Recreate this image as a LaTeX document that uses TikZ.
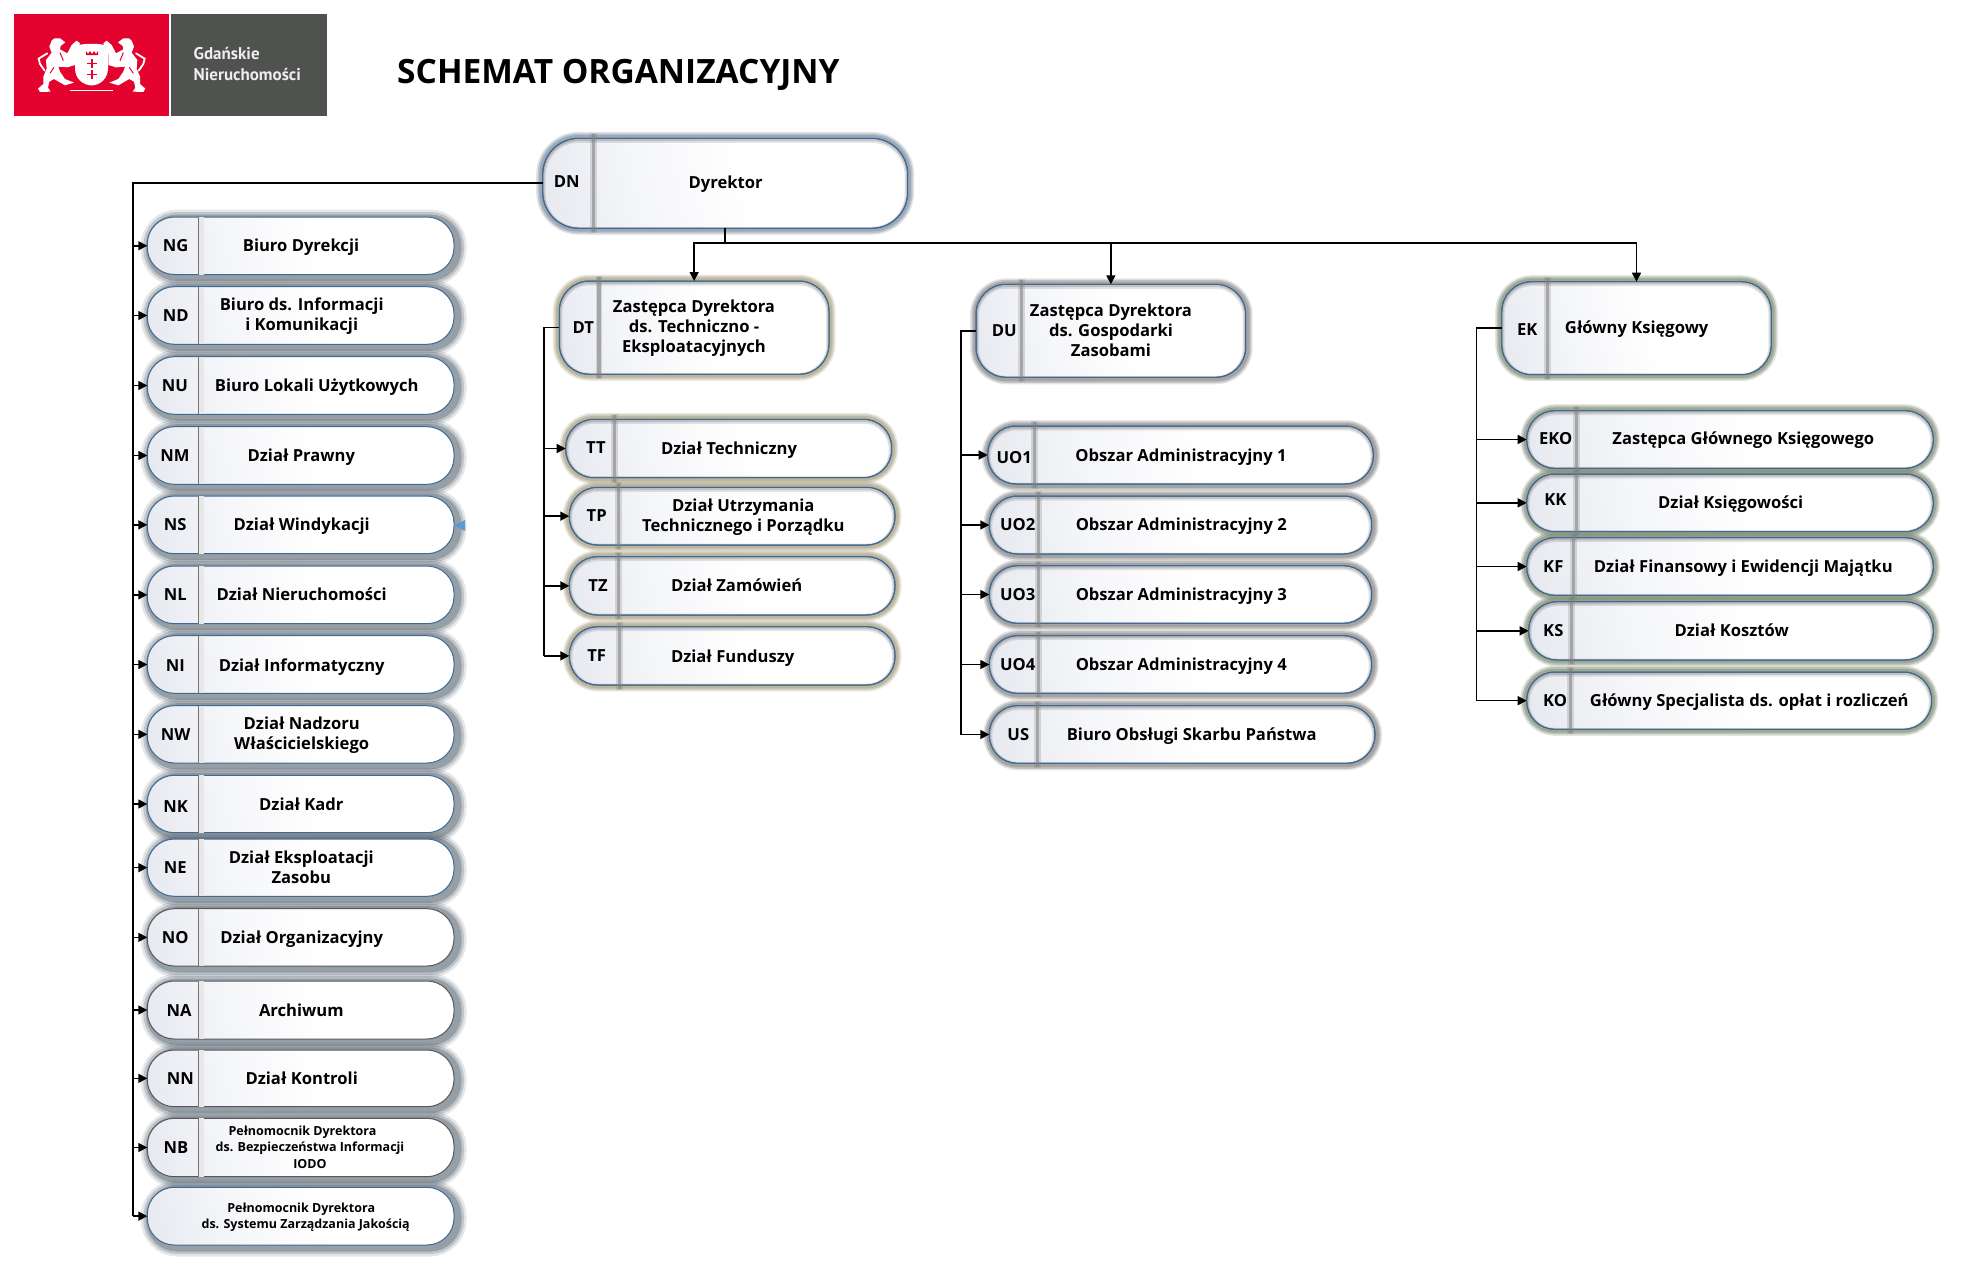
\documentclass[tikz,border=0pt]{standalone}
\usepackage{fontspec}
\setmainfont{Open Sans}
\newfontfamily\logofont{PT Sans}
\usetikzlibrary{arrows.meta}
\pgfdeclarelayer{bg}
\pgfsetlayers{bg,main}
\definecolor{shA}{HTML}{E4E7EE}
\definecolor{shB}{HTML}{F5F6F9}
\pgfdeclarehorizontalshading{boxshade}{100bp}{color(0bp)=(shA); color(18bp)=(shA); color(36bp)=(shB); color(54bp)=(white); color(100bp)=(white)}
\definecolor{blueline}{HTML}{3F6A94}
\definecolor{greyline}{HTML}{55595E}
\definecolor{gL}{HTML}{586472}
\definecolor{gD}{HTML}{7E90A2}
\definecolor{gT}{HTML}{A9A182}
\definecolor{gU}{HTML}{8A8A8A}
\definecolor{gK}{HTML}{838F78}
\definecolor{logored}{HTML}{E4032E}
\definecolor{logogrey}{HTML}{4F524F}
\definecolor{tribl}{HTML}{5B9BD5}
\tikzset{
  orgshape/.style={rectangle,draw,line width=1pt,inner sep=0pt,outer sep=0pt,shading=boxshade,shading angle=12},
  labbase/.style={font=\bfseries\fontsize{16.6}{20}\selectfont,align=center,inner sep=0pt,text=black,yshift=-1pt},
  lab/.style={labbase,text height=12.5pt,text depth=2pt},
  smalllab/.style={font=\bfseries\fontsize{12.5}{15.5}\selectfont,align=center,inner sep=0pt,text=black,yshift=-1pt},
  conn/.style={draw=black,line width=1.5pt},
  arr/.style={conn,-{Triangle[length=9pt,width=9pt]}},
  busline/.style={draw=black,line width=2.3pt},
}
% glows
\newcommand\glowring[7]{% color,sx,sy,x0,y0,x1,y1 then radius via \gr
  \draw[#1,opacity=.16,line width=19pt,rounded corners=\gr pt,shift={(#2,#3)}] (#4,#5) rectangle (#6,#7);
  \draw[#1,opacity=.25,line width=14pt,rounded corners=\gr pt,shift={(#2,#3)}] (#4,#5) rectangle (#6,#7);
  \draw[#1,opacity=.4,line width=9pt,rounded corners=\gr pt,shift={(#2,#3)}] (#4,#5) rectangle (#6,#7);
}
\newcommand\glowthin[7]{%
  \draw[#1,opacity=.22,line width=13pt,rounded corners=\gr pt,shift={(#2,#3)}] (#4,#5) rectangle (#6,#7);
  \draw[#1,opacity=.4,line width=10pt,rounded corners=\gr pt,shift={(#2,#3)}] (#4,#5) rectangle (#6,#7);
  \draw[#1,opacity=.5,line width=6.5pt,rounded corners=\gr pt,shift={(#2,#3)}] (#4,#5) rectangle (#6,#7);
}
\newcommand\glowL[5]{\def\gr{#5}\glowring{gL}{3}{2}{#1}{#2}{#3}{#4}}
\newcommand\glowD[5]{\def\gr{#5}\glowthin{gD}{0}{0}{#1}{#2}{#3}{#4}}
\newcommand\glowT[5]{\def\gr{#5}\glowthin{gT}{0}{0}{#1}{#2}{#3}{#4}}
\newcommand\glowU[5]{\def\gr{#5}\glowthin{gU}{0.5}{0.5}{#1}{#2}{#3}{#4}}
\newcommand\glowK[5]{\def\gr{#5}\glowthin{gK}{0}{0}{#1}{#2}{#3}{#4}}
% inner top shadow
\newcommand\innerL[5]{}
\newcommand\innerfull[5]{%
  \begin{scope}
    \clip[rounded corners=#5pt] (#1,#2) rectangle (#3,#4);
    \draw[black,opacity=.10,line width=6pt,rounded corners=#5pt] (#1,{#2+1.5}) rectangle (#3,{#4+1.5});
    \draw[black,opacity=.14,line width=3.5pt,rounded corners=#5pt] (#1,{#2+1}) rectangle (#3,{#4+1});
  \end{scope}
  \draw[\bc,line width=1pt,rounded corners=#5pt] (#1,#2) rectangle (#3,#4);
}
\let\innerD\innerfull \let\innerT\innerfull \let\innerU\innerfull \let\innerK\innerfull
% dividers
\newcommand\divthin[3]{%
  \fill[black!9] (#1,#2) rectangle ({#1+5},#3);
  \draw[line width=1.3pt,draw=black!55] (#1,#2) -- (#1,#3);
}
\newcommand\divthick[3]{%
  \draw[line width=6.5pt,draw=black!50,opacity=.25] (#1,{#2-5}) -- (#1,{#3+5});
  \draw[line width=3.5pt,draw=black!50,opacity=.55] (#1,{#2-4}) -- (#1,{#3+4});
}
\newcommand\divnone[3]{}
\newcommand\bc{blueline}
% name x0 y0 x1 y1 radius glow divx divstyle
\newcommand\orgbox[9]{%
  \begin{pgfonlayer}{bg}\csname glow#7\endcsname{#2}{#3}{#4}{#5}{#6}\end{pgfonlayer}
  \pgfmathsetmacro\bxc{(#2+#4)/2}\pgfmathsetmacro\byc{(#3+#5)/2}
  \pgfmathsetmacro\bxw{#4-#2}\pgfmathsetmacro\byh{#5-#3}
  \node[orgshape,draw=\bc,rounded corners=#6pt,minimum width=\bxw pt,minimum height=\byh pt] (#1) at (\bxc,\byc) {};
  \csname inner#7\endcsname{#2}{#3}{#4}{#5}{#6}
  \csname div#9\endcsname{#8}{#3}{#5}
}
\newcommand\lab[4]{\node[lab] (#1) at (#2,#3) {#4};}
\newcommand\mlab[4]{\node[labbase] (#1) at (#2,#3) {\rule{0pt}{12.5pt}#4\rule[-2pt]{0pt}{2pt}};}
\begin{document}
\begin{tikzpicture}[x=1pt,y=-1pt]
\useasboundingbox (0,0) rectangle (1966,1274);
\begin{pgfonlayer}{bg}\fill[white] (0,0) rectangle (1966,1274);\end{pgfonlayer}
% logo
\fill[logored] (14,14) rectangle (169,116);
\fill[logogrey] (171,14) rectangle (326.5,116);
\node[anchor=west,inner sep=0pt,text=black!7,font=\logofont\bfseries\fontsize{17}{20}\selectfont,text height=11pt,text depth=1pt] (logoa) at (193.5,54.5) {Gdańskie};
\node[anchor=west,inner sep=0pt,text=black!7,font=\logofont\bfseries\fontsize{17}{20}\selectfont,text height=11pt,text depth=1pt] (logob) at (193.5,75.5) {Nieruchomości};
\foreach \lsx/\lsh in {.3333/10,-.3333/173.33}{
\begin{scope}[shift={(\lsh,10)},x=\lsx pt,y=-.3333pt]
  \fill[white] (125,92)--(133,85)--(150,85)--(166,97)--(152,108)--(150,118)--(172,130)--(185,105)--(200,92)--(210,100)--(203,120)--(195,132)--(195,165)--(172,172)--(145,170)--(150,185)--(165,207)--(192,218)--(165,226)--(132,207)--(118,215)--(114,233)--(122,245)--(90,246)--(84,236)--(100,222)--(100,200)--(110,176)--(108,150)--(125,128)--(118,110)--cycle;
  \draw[white,line width=1.8pt,line cap=round,fill=none] (112,130)--(86,146)--(90,162)--(104,182);
  \draw[logored,line width=1pt] (132,172)--(120,190);
  \draw[logored,line width=1pt] (150,128)--(160,152);
\end{scope}}
\fill[white] (75,46) .. controls (84,43) and (100,43) .. (108,46) -- (108,68) .. controls (108,79) and (100,85) .. (91.7,85.5) .. controls (83,85) and (75,79) .. (75,68) -- cycle;
\fill[logored] (86,51) -- (88,54) -- (90,51) -- (92,54) -- (94,51) -- (96,54) -- (98,51) -- (98,55) -- (86,55) -- cycle;
\draw[logored,line width=1.6pt] (87,63.5) -- (96.5,63.5) (91.7,59) -- (91.7,68) (87,74.5) -- (96.5,74.5) (91.7,70) -- (91.7,79);
\draw[white,line width=1.2pt] (70,90.7) -- (113,90.7);
% title
\node[anchor=west,inner sep=0pt,font=\bfseries\fontsize{33.5}{36}\selectfont,text height=24pt,text depth=0pt] (title) at (397,71) {SCHEMAT ORGANIZACYJNY};
% director
\orgbox{DN}{542.7}{138.3}{907.7}{228.3}{36}{D}{593.3}{thick}
\lab{DNc}{566.7}{181}{DN}\lab{DNt}{725.7}{182}{Dyrektor}
% left column
\orgbox{NG}{147.3}{217}{454}{274.5}{27}{L}{198.7}{thin}
\orgbox{ND}{147.3}{286.7}{454}{344.3}{27}{L}{198.7}{thin}
\orgbox{NU}{147.3}{356.7}{454}{414.3}{27}{L}{198.7}{thin}
\orgbox{NM}{147.3}{426.7}{454}{484.3}{27}{L}{198.7}{thin}
\orgbox{NS}{147.3}{496}{454}{553.7}{27}{L}{198.7}{thin}
\orgbox{NL}{147.3}{566}{454}{623.7}{27}{L}{198.7}{thin}
\orgbox{NI}{147.3}{635.7}{454}{693.3}{27}{L}{198.7}{thin}
\orgbox{NW}{147.3}{705.7}{454}{763}{27}{L}{198.7}{thin}
\orgbox{NK}{147.3}{775.3}{454}{832.7}{27}{L}{198.7}{thin}
\orgbox{NE}{147.3}{839}{454}{896.3}{27}{L}{198.7}{thin}
\renewcommand\bc{greyline}
\orgbox{NO}{147.3}{908.7}{454}{966}{27}{L}{198.7}{thin}
\orgbox{NA}{147.3}{981}{454}{1039}{27}{L}{198.7}{thin}
\orgbox{NN}{147.3}{1050}{454}{1106.7}{27}{L}{198.7}{thin}
\orgbox{NB}{147.3}{1118.3}{454}{1176.7}{27}{L}{198.7}{thin}
\renewcommand\bc{blueline}
\orgbox{NZ}{147.3}{1187.3}{454}{1245}{27}{L}{198.7}{none}
\lab{NGc}{175.7}{245}{NG}\lab{NGt}{301}{245}{Biuro Dyrekcji}
\lab{NDc}{175.7}{315}{ND}\mlab{NDt}{301.7}{315}{Biuro ds. Informacji\\i Komunikacji}
\lab{NUc}{175}{385}{NU}\lab{NUt}{316.7}{385}{Biuro Lokali Użytkowych}
\lab{NMc}{175}{455}{NM}\lab{NMt}{301.3}{455}{Dział Prawny}
\lab{NSc}{175.3}{524}{NS}\lab{NSt}{301.7}{524}{Dział Windykacji}
\lab{NLc}{175.3}{594}{NL}\lab{NLt}{301.7}{594}{Dział Nieruchomości}
\lab{NIc}{175.3}{665}{NI}\lab{NIt}{301.7}{665}{Dział Informatyczny}
\lab{NWc}{175.7}{734}{NW}\mlab{NWt}{301.7}{734}{Dział Nadzoru\\Właścicielskiego}
\lab{NKc}{175.7}{806}{NK}\lab{NKt}{301.3}{804}{Dział Kadr}
\lab{NEc}{175.3}{867.3}{NE}\mlab{NEt}{301.3}{867.3}{Dział Eksploatacji\\Zasobu}
\lab{NOc}{175.3}{937.3}{NO}\lab{NOt}{301.7}{937.3}{Dział Organizacyjny}
\lab{NAc}{179}{1010}{NA}\lab{NAt}{301.3}{1010}{Archiwum}
\lab{NNc}{180.3}{1078}{NN}\lab{NNt}{301.7}{1078}{Dział Kontroli}
\lab{NBc}{176}{1147.7}{NB}
\node[smalllab] (NBt) at (310,1147) {\rule{0pt}{10pt}\kern-15pt Pełnomocnik Dyrektora\\ds. Bezpieczeństwa Informacji\\[1.5pt]IODO\rule[-2pt]{0pt}{2pt}};
\node[smalllab] (NZt) at (305.7,1216) {\rule{0pt}{10pt}\kern-9pt Pełnomocnik Dyrektora\\ds. Systemu Zarządzania Jakością\rule[-2pt]{0pt}{2pt}};
% triangle on NS
\fill[tribl] (NS.east) ++(0.5,0.7) -- ++(10.5,-5.5) -- ++(0,11) -- cycle;
% deputy T
\orgbox{DT}{559.3}{281}{829}{374.3}{30}{T}{599}{thick}
\lab{DTc}{583.3}{327.3}{DT}\mlab{DTt}{694}{327.3}{Zastępca Dyrektora\\ds. Techniczno -\\Eksploatacyjnych}
\orgbox{TT}{565.7}{419.3}{891.7}{477.7}{28}{T}{614.3}{thick}
\orgbox{TP}{569.3}{487.3}{895}{545}{28}{T}{618.3}{thick}
\orgbox{TZ}{569.3}{556.7}{895}{615}{28}{T}{618.3}{thick}
\orgbox{TF}{569.3}{626.7}{895}{685}{28}{T}{619.3}{thick}
\lab{TTc}{596}{447.5}{TT}\lab{TTt}{729}{448.3}{Dział Techniczny}
\lab{TPc}{596.7}{515.7}{TP}\mlab{TPt}{743.3}{516}{Dział Utrzymania\\Technicznego i Porządku}
\lab{TZc}{598}{585}{TZ}\lab{TZt}{736.7}{585}{Dział Zamówień}
\lab{TFc}{596.7}{655}{TF}\lab{TFt}{732.7}{656.7}{Dział Funduszy}
% deputy U
\orgbox{DU}{976}{284.3}{1245.7}{377.3}{30}{U}{1021.7}{thick}
\lab{DUc}{1004.3}{330.7}{DU}\mlab{DUt}{1111}{330}{Zastępca Dyrektora\\ds. Gospodarki\\Zasobami}
\orgbox{UO1}{987.7}{426}{1373.3}{484}{28}{U}{1034.3}{thick}
\orgbox{UO2}{989.3}{496}{1371.7}{554}{28}{U}{1038.3}{thick}
\orgbox{UO3}{989.3}{565.7}{1371.7}{623.3}{28}{U}{1038.3}{thick}
\orgbox{UO4}{989.3}{635.7}{1371.7}{693.3}{28}{U}{1038.3}{thick}
\orgbox{US}{989.3}{705.7}{1375}{763.3}{28}{U}{1037.3}{thick}
\lab{UO1c}{1014.3}{457.3}{UO1}\lab{UO1t}{1181}{455}{Obszar Administracyjny 1}
\lab{UO2c}{1017.7}{524.3}{UO2}\lab{UO2t}{1181.3}{524.3}{Obszar Administracyjny 2}
\lab{UO3c}{1017.7}{594.3}{UO3}\lab{UO3t}{1181.3}{594.3}{Obszar Administracyjny 3}
\lab{UO4c}{1017.7}{664.3}{UO4}\lab{UO4t}{1181.3}{664.3}{Obszar Administracyjny 4}
\lab{USc}{1018.3}{734}{US}\lab{USt}{1191.7}{734.3}{Biuro Obsługi Skarbu Państwa}
% chief accountant
\orgbox{EK}{1501.7}{281.7}{1771.3}{374.7}{30}{K}{1547.7}{thick}
\lab{EKc}{1527.3}{329.3}{EK}\lab{EKt}{1636.7}{327.7}{Główny Księgowy}
\orgbox{EKO}{1526.7}{410.7}{1933.3}{468.3}{28}{K}{1576.7}{thick}
\orgbox{KK}{1526.7}{474}{1933.3}{531.7}{28}{K}{1576.7}{thick}
\orgbox{KF}{1526.7}{537.7}{1933.3}{595.3}{28}{K}{1573.3}{thick}
\orgbox{KS}{1528.7}{601.7}{1933.3}{660}{28}{K}{1571.7}{thick}
\orgbox{KO}{1526.7}{672}{1931.7}{729.3}{28}{K}{1570.7}{thick}
\lab{EKOc}{1555.7}{438.3}{EKO}\lab{EKOt}{1743.3}{438.3}{Zastępca Głównego Księgowego}
\lab{KKc}{1555.3}{499.3}{KK}\lab{KKt}{1730.7}{502.3}{Dział Księgowości}
\lab{KFc}{1553.3}{566}{KF}\lab{KFt}{1743.3}{566}{Dział Finansowy i Ewidencji Majątku}
\lab{KSc}{1553.3}{630}{KS}\lab{KSt}{1731.7}{630}{Dział Kosztów}
\lab{KOc}{1555}{700.3}{KO}\lab{KOt}{1749.3}{700.3}{Główny Specjalista ds. opłat i rozliczeń}
% connectors
\coordinate (busL) at (132.7,182.5);
\coordinate (busT) at (544,327.3);
\coordinate (busU) at (961,331);
\coordinate (busK) at (1476.7,328);
\coordinate (split) at (725.3,243);
\draw[busline] (DN.west) -| (busL |- NZ.west);
\foreach \n in {NG,ND,NU,NM,NS,NL,NI,NW,NK,NE,NO,NA,NN,NB,NZ}
  \draw[arr] (busL |- \n.west) -- (\n.west);
\draw[conn] (DN.south) -- (DN.south |- split);
\draw[arr] (split -| DN.south) -| (DT.north);
\draw[arr] (split -| DN.south) -| (DU.north);
\draw[arr] (split -| DN.south) -| (EK.north);
\draw[conn] (DT.west) -| (busT |- TF.west);
\foreach \n in {TT,TP,TZ,TF} \draw[arr] (busT |- \n.west) -- (\n.west);
\draw[conn] (DU.west) -| (busU |- US.west);
\foreach \n in {UO1,UO2,UO3,UO4,US} \draw[arr] (busU |- \n.west) -- (\n.west);
\draw[conn] (EK.west) -| (busK |- KO.west);
\foreach \n in {EKO,KK,KF,KS,KO} \draw[arr] (busK |- \n.west) -- (\n.west);
\end{tikzpicture}
\end{document}
